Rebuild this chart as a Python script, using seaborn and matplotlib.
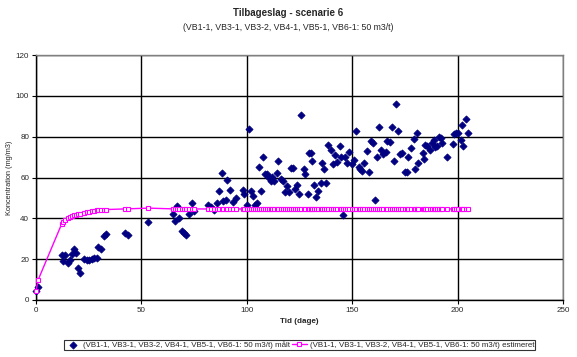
import matplotlib
matplotlib.use("Agg")
import matplotlib.pyplot as plt
import seaborn as sns
import pandas as pd

days = [0.0, 1.0, 12.2, 13.0, 13.8, 15.3, 16.1, 16.9, 18.0, 19.0,
        20.1, 20.9, 22.8, 24.1, 25.3, 26.4, 27.5, 28.8, 29.6, 30.7,
        32.3, 33.2, 42.2, 43.8, 53.3, 64.9, 66.0, 67.0, 68.0, 69.1,
        70.2, 71.2, 72.8, 73.9, 75.0, 81.8, 82.9, 84.3, 85.8, 87.0,
        88.1, 88.9, 90.0, 90.8, 92.1, 93.6, 94.9, 98.1, 98.9, 100.0,
        101.1, 102.0, 103.1, 103.9, 105.0, 106.0, 106.8, 107.9, 108.7, 109.5,
        110.7, 111.5, 111.9, 113.0, 114.2, 115.0, 116.1, 117.1, 118.2, 119.3,
        120.2, 120.9, 122.1, 122.9, 124.0, 124.8, 125.8, 126.9, 127.7, 128.8,
        129.7, 130.5, 130.8, 131.9, 132.9, 134.0, 135.1, 135.9, 136.8, 137.6,
        138.7, 139.9, 140.8, 141.9, 143.0, 144.0, 144.8, 145.6, 146.7, 147.7,
        148.7, 149.8, 150.9, 151.7, 153.0, 153.8, 154.7, 155.7, 156.9, 158.0,
        158.8, 159.8, 160.9, 161.7, 162.8, 163.6, 164.8, 165.8, 166.7, 167.7,
        168.8, 169.9, 170.9, 171.7, 172.8, 173.8, 175.1, 175.9, 176.4, 177.8,
        179.1, 179.9, 180.7, 181.4, 183.8, 184.2, 184.6, 185.7, 187.0, 187.8,
        188.6, 189.4, 190.2, 191.0, 192.1, 192.5, 194.9, 197.6, 198.1, 199.3,
        200.0, 201.7, 202.0, 202.5, 203.8, 204.9]

measured = [4.6, 6.2, 22.0, 19.1, 22.0, 18.3, 19.6, 22.4, 24.8, 23.2,
            15.5, 13.1, 20.0, 19.6, 19.6, 20.0, 20.4, 20.5, 25.8, 24.8,
            31.4, 32.4, 33.0, 31.9, 38.1, 42.0, 38.7, 46.2, 40.3, 33.8,
            32.7, 31.9, 42.2, 47.7, 43.8, 46.6, 45.7, 44.0, 47.6, 53.4,
            62.1, 48.5, 49.0, 58.8, 53.9, 48.2, 50.2, 53.9, 52.0, 46.6,
            83.8, 53.6, 51.0, 46.6, 47.4, 64.9, 53.6, 70.2, 61.6, 61.6,
            59.7, 58.5, 60.1, 58.5, 62.1, 68.3, 59.2, 58.5, 53.1, 55.9,
            53.1, 64.6, 64.6, 54.4, 56.4, 51.8, 90.5, 64.0, 61.6, 51.8,
            71.9, 71.9, 68.3, 56.4, 50.6, 53.4, 57.2, 67.0, 64.0, 57.5,
            76.0, 73.5, 66.7, 71.1, 67.8, 75.2, 69.8, 41.7, 69.8, 67.3,
            72.7, 66.7, 68.6, 83.0, 65.0, 64.2, 63.2, 67.3, 73.0, 62.9,
            77.9, 76.8, 49.0, 69.8, 84.5, 73.5, 71.4, 72.7, 77.9, 77.3,
            84.5, 68.3, 95.9, 83.0, 71.4, 72.2, 62.9, 62.9, 69.8, 74.4,
            78.8, 64.0, 81.7, 67.3, 72.2, 69.1, 76.0, 75.5, 73.5, 77.1,
            78.4, 74.9, 75.2, 80.0, 79.3, 76.8, 69.8, 76.3, 81.4, 81.7,
            81.7, 78.4, 85.8, 75.6, 88.6, 82.0]

estimated = [4.6, 9.8, 37.3, 38.3, 39.2, 40.2, 40.6, 41.0, 41.4, 41.7,
             42.0, 42.3, 42.8, 43.1, 43.3, 43.5, 43.7, 43.9, 44.0, 44.1,
             44.2, 44.3, 44.6, 44.6, 45.0, 44.6, 44.6, 44.6, 44.6, 44.6,
             44.6, 44.6, 44.6, 44.6, 44.6, 44.6, 44.6, 44.6, 44.6, 44.6,
             44.6, 44.6, 44.6, 44.6, 44.6, 44.6, 44.6, 44.6, 44.6, 44.6,
             44.6, 44.6, 44.6, 44.6, 44.6, 44.6, 44.6, 44.6, 44.6, 44.6,
             44.6, 44.6, 44.6, 44.6, 44.6, 44.6, 44.6, 44.6, 44.6, 44.6,
             44.6, 44.6, 44.6, 44.6, 44.6, 44.6, 44.6, 44.6, 44.6, 44.6,
             44.6, 44.6, 44.6, 44.6, 44.6, 44.6, 44.6, 44.6, 44.6, 44.6,
             44.6, 44.6, 44.6, 44.6, 44.6, 44.6, 44.6, 44.6, 44.6, 44.6,
             44.6, 44.6, 44.6, 44.6, 44.6, 44.6, 44.6, 44.6, 44.6, 44.6,
             44.6, 44.6, 44.6, 44.6, 44.6, 44.6, 44.6, 44.6, 44.6, 44.6,
             44.6, 44.6, 44.6, 44.6, 44.6, 44.6, 44.6, 44.6, 44.6, 44.6,
             44.6, 44.6, 44.6, 44.6, 44.6, 44.6, 44.6, 44.6, 44.6, 44.6,
             44.6, 44.6, 44.6, 44.6, 44.6, 44.6, 44.6, 44.6, 44.6, 44.6,
             44.6, 44.6, 44.6, 44.6, 44.6, 44.6]

x_ticks = [0, 50, 100, 150, 200, 250]
y_ticks = [0, 20, 40, 60, 80, 100, 120]

title = "Tilbageslag - scenarie 6"
subtitle = "(VB1-1, VB3-1, VB3-2, VB4-1, VB5-1, VB6-1: 50 m3/t)"
label_meas = "(VB1-1, VB3-1, VB3-2, VB4-1, VB5-1, VB6-1: 50 m3/t) målt"
label_est = "(VB1-1, VB3-1, VB3-2, VB4-1, VB5-1, VB6-1: 50 m3/t) estimeret"

sns.set_style("white")
plt.rcParams['font.family'] = ['Liberation Sans', 'DejaVu Sans']

df_meas = pd.DataFrame({"Tid": days, "Konc": measured})
df_est = pd.DataFrame({"Tid": days, "Konc": estimated})

fig = plt.figure(figsize=(5.77, 3.57), dpi=100)
ax = fig.add_axes([36 / 577, 57 / 357, 527 / 577, 245 / 357])

sns.scatterplot(data=df_meas, x="Tid", y="Konc", ax=ax, marker="D", s=13,
                color="#000080", edgecolor="#000080", linewidth=0.6,
                label=label_meas, zorder=3, clip_on=False)
sns.lineplot(data=df_est, x="Tid", y="Konc", ax=ax, color="#FF00FF",
             linewidth=1.0, marker="s", markersize=3.4,
             markerfacecolor="white", markeredgecolor="#FF00FF",
             markeredgewidth=0.8, label=label_est, zorder=4, sort=False,
             clip_on=False)

ax.set_xlim(0, 250)
ax.set_ylim(0, 120)
ax.set_xticks(x_ticks)
ax.set_yticks(y_ticks)
ax.tick_params(axis="both", which="both", direction="out", length=3,
               width=0.8, color="black", labelsize=5.8, pad=2,
               bottom=True, left=True)
ax.set_axisbelow(True)
ax.grid(True, color="black", linewidth=1.0)

for side in ["left", "bottom"]:
    ax.spines[side].set_color("black")
    ax.spines[side].set_linewidth(1.0)
for side in ["top", "right"]:
    ax.spines[side].set_color("#808080")
    ax.spines[side].set_linewidth(1.0)

ax.set_xlabel("Tid (dage)", fontsize=5.8, fontweight="bold", labelpad=3)
ax.set_ylabel("Koncentration (mg/m3)", fontsize=5.3, labelpad=2)

fig.text(0.5, 1 - 13 / 357, title, ha="center", va="center",
         fontsize=7, fontweight="bold")
fig.text(0.5, 1 - 27 / 357, subtitle, ha="center", va="center",
         fontsize=6.3)

if ax.legend_:
    ax.legend_.remove()
handles, labels = ax.get_legend_handles_labels()
leg = fig.legend(handles, labels, loc="center", ncol=2,
                 bbox_to_anchor=(299.5 / 577, 1 - 345 / 357),
                 fontsize=5.7, frameon=True, fancybox=False,
                 borderpad=0.15, handletextpad=0.3, columnspacing=0.2,
                 handlelength=2.0, borderaxespad=0.0, markerscale=1.0)
leg.get_frame().set_edgecolor("black")
leg.get_frame().set_linewidth(0.8)

fig.savefig("out.png", dpi=100)
